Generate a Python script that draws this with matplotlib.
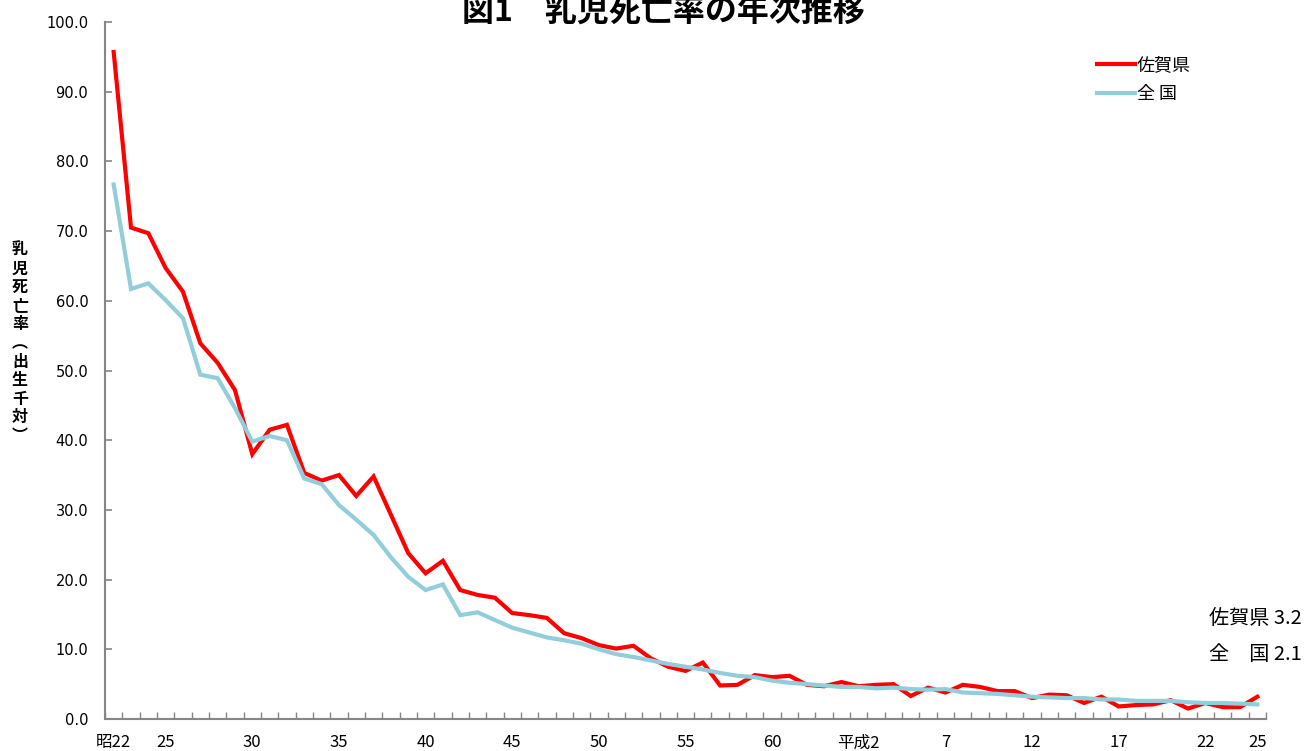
import matplotlib
matplotlib.use("Agg")
import matplotlib.pyplot as plt
from matplotlib.ticker import FuncFormatter

plt.rcParams['font.family'] = ['Noto Sans CJK JP', 'DejaVu Sans']

years = list(range(1947, 2014))

saga = [95.7, 70.5, 69.7, 64.7, 61.3, 53.9, 51.1, 47.2, 38.0, 41.5,
        42.2, 35.3, 34.2, 35.0, 32.0, 34.8, 29.3, 23.8, 20.9, 22.7,
        18.5, 17.8, 17.4, 15.2, 14.9, 14.5, 12.3, 11.6, 10.6, 10.1,
        10.5, 8.7, 7.5, 6.9, 8.1, 4.8, 4.9, 6.3, 6.0, 6.2,
        4.9, 4.7, 5.3, 4.7, 4.9, 5.0, 3.3, 4.5, 3.8, 4.9,
        4.6, 4.0, 4.0, 3.0, 3.5, 3.4, 2.3, 3.2, 1.8, 2.0,
        2.1, 2.7, 1.5, 2.3, 1.7, 1.7, 3.2]

zenkoku = [76.7, 61.7, 62.5, 60.1, 57.5, 49.4, 48.9, 44.6, 39.8, 40.6,
           40.0, 34.5, 33.7, 30.7, 28.6, 26.4, 23.2, 20.4, 18.5, 19.3,
           14.9, 15.3, 14.2, 13.1, 12.4, 11.7, 11.3, 10.8, 10.0, 9.3,
           8.9, 8.4, 7.9, 7.5, 7.1, 6.6, 6.2, 6.0, 5.5, 5.2,
           5.0, 4.8, 4.6, 4.6, 4.4, 4.5, 4.3, 4.2, 4.3, 3.8,
           3.7, 3.6, 3.4, 3.2, 3.1, 3.0, 3.0, 2.8, 2.8, 2.6,
           2.6, 2.6, 2.4, 2.3, 2.3, 2.2, 2.1]

tick_years = [1947, 1950, 1955, 1960, 1965, 1970, 1975, 1980, 1985,
              1990, 1995, 2000, 2005, 2010, 2013]
tick_labels = ['昭22', '25', '30', '35', '40', '45', '50', '55', '60',
               '平成2', '7', '12', '17', '22', '25']

title = '図1　乳児死亡率の年次推移'
ylabel_chars = ['乳', '児', '死', '亡', '率', '︵', '出', '生', '千', '対', '︶']
series_names = ['佐賀県', '全 国']
final_notes = ['佐賀県 3.2', '全　国 2.1']

W, H = 1310, 751
fig = plt.figure(figsize=(W / 100, H / 100), dpi=100)
ax = fig.add_axes([105 / W, 1 - 719 / H, (1266 - 105) / W, (719 - 22) / H])

red = '#FF0000'
blue = '#92CDDC'
idx = list(range(len(years)))
l1, = ax.plot(idx, saga, color=red, lw=3.0, solid_joinstyle='miter', zorder=3)
l2, = ax.plot(idx, zenkoku, color=blue, lw=3.0, solid_joinstyle='miter', zorder=3)

ax.set_xlim(-0.5, len(years) - 0.5)
ax.set_ylim(0, 100)

for s in ['top', 'right']:
    ax.spines[s].set_visible(False)
for s in ['left', 'bottom']:
    ax.spines[s].set_color('#868686')
    ax.spines[s].set_linewidth(1.5)

ax.set_yticks(range(0, 101, 10))
ax.yaxis.set_major_formatter(FuncFormatter(lambda v, p: f'{v:.1f}'))
ax.tick_params(axis='y', direction='in', length=5, width=1.2, color='#868686',
               pad=12, labelsize=10.5)
for lab in ax.get_yticklabels():
    lab.set_fontfamily('DejaVu Sans')

ax.set_xticks([years.index(y) for y in tick_years])
ax.set_xticklabels(tick_labels)
ax.set_xticks([i - 0.5 for i in range(len(years) + 1)], minor=True)
ax.tick_params(axis='x', which='major', length=0, pad=11, labelsize=12)
ax.tick_params(axis='x', which='minor', direction='in', length=5, width=1.0,
               color='#868686')

fig.text(663 / W, 1 - 12 / H, title, ha='center', va='center', fontsize=23,
         fontweight='bold')

fig.text(20 / W, 1 - 343 / H, '\n'.join(ylabel_chars),
         ha='center', va='center', fontsize=11.5, fontweight='bold', linespacing=1.2)

leg = ax.legend([l1, l2], series_names, loc='upper left',
                bbox_to_anchor=(1081 / W, 1 - 40 / H), bbox_transform=fig.transFigure,
                frameon=False, fontsize=13, handlelength=2.1, handletextpad=0.1,
                labelspacing=0.6)

fig.text(1209 / W, 1 - 619 / H, final_notes[0], ha='left', va='center', fontsize=14.5)
fig.text(1209 / W, 1 - 655 / H, final_notes[1], ha='left', va='center', fontsize=14.5)

fig.savefig('out.png', dpi=100)
